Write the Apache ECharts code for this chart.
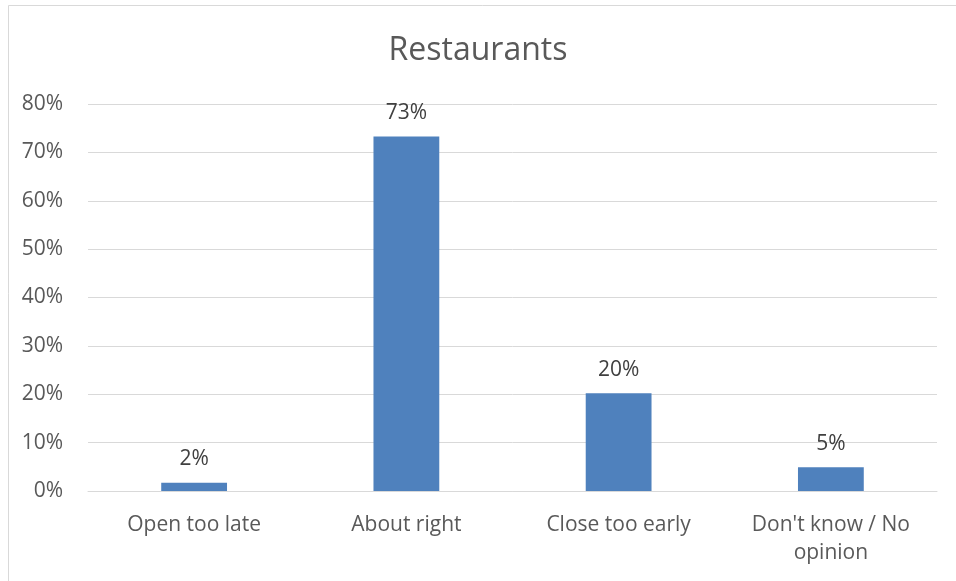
<!DOCTYPE html>
<html><head><meta charset="utf-8">
<script src="https://cdn.jsdelivr.net/npm/echarts@6/dist/echarts.min.js"></script>
<style>html,body{margin:0;padding:0;background:#fff}#c{width:956px;height:581px}</style>
</head><body><div id="c"></div>
<script>
const categories = ['Open too late', 'About right', 'Close too early', "Don't know / No\nopinion"];
const values = [1.7, 73.3, 20.2, 4.9];
const yTicks = [0, 10, 20, 30, 40, 50, 60, 70, 80];
const FONT = 'Open Sans';
const chart = echarts.init(document.getElementById('c'), null, {renderer: 'canvas'});
chart.setOption({
  backgroundColor: '#fff',
  animation: false,
  graphic: [{type: 'rect', shape: {x: 8.5, y: 5.5, width: 960, height: 600}, style: {fill: 'none', stroke: '#d9d9d9', lineWidth: 1}, silent: true}],
  title: {text: 'Restaurants', left: 'center', top: 30, textStyle: {fontFamily: FONT, fontSize: 32, fontWeight: 'normal', color: '#595959'}},
  grid: {left: 88, right: 19, top: 104, bottom: 90},
  xAxis: {type: 'category', data: categories,
    axisLine: {lineStyle: {color: '#d9d9d9', width: 1}}, axisTick: {show: false},
    axisLabel: {fontFamily: FONT, fontSize: 21, color: '#595959', margin: 20, lineHeight: 28, interval: 0}},
  yAxis: {type: 'value', min: yTicks[0], max: yTicks[yTicks.length-1], interval: 10,
    axisLine: {show: false}, axisTick: {show: false},
    splitLine: {lineStyle: {color: '#d9d9d9', width: 1}},
    axisLabel: {fontFamily: FONT, fontSize: 21, color: '#595959', margin: 25, formatter: v => v + '%'}},
  series: [{type: 'bar', data: values, barWidth: '31%', itemStyle: {color: '#4f81bd'},
    label: {show: true, position: 'top', distance: 13, fontFamily: FONT, fontSize: 21, color: '#404040', formatter: p => Math.round(p.value) + '%'}}]
});
</script></body></html>
